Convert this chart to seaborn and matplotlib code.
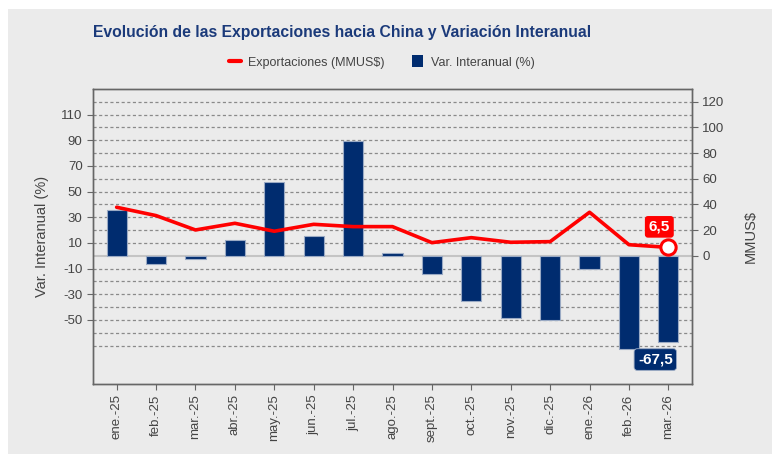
import numpy as np
import pandas as pd
import matplotlib
matplotlib.use("Agg")
import matplotlib.pyplot as plt
import seaborn as sns
from matplotlib.lines import Line2D
from matplotlib.patches import Patch, Rectangle

# datos
MESES = ['ene.-25', 'feb.-25', 'mar.-25', 'abr.-25', 'may.-25', 'jun.-25', 'jul.-25',
         'ago.-25', 'sept.-25', 'oct.-25', 'nov.-25', 'dic.-25', 'ene.-26', 'feb.-26', 'mar.-26']
VAR_INTERANUAL = [35.5, -6.2, -2.3, 12.0, 57.6, 15.1, 89.6, 2.1,
                  -14.0, -35.4, -48.2, -50.0, -10.4, -72.6, -67.5]
EXPORTACIONES = [37.8, 31.3, 20.1, 25.3, 19.1, 24.5, 22.7, 22.7,
                 10.2, 14.1, 10.5, 11.0, 33.9, 8.6, 6.5]
LEFT_TICKS = [110, 90, 70, 50, 30, 10, -10, -30, -50]
RIGHT_TICKS = [0, 20, 40, 60, 80, 100, 120]

NAVY = '#002c6f'
RED = '#ff0000'
BG = '#ebebeb'
TXT = '#444444'
SPINE = '#666666'

sns.set_theme(style='white')
plt.rcParams['font.family'] = ['Liberation Sans', 'DejaVu Sans']
plt.rcParams['axes.unicode_minus'] = False

df = pd.DataFrame({'mes': MESES, 'var': VAR_INTERANUAL,
                   'exp': EXPORTACIONES, 'idx': np.arange(len(MESES))})

fig = plt.figure(figsize=(7.72, 4.54), dpi=100, facecolor='white')
fig.patches.append(Rectangle((8 / 772, 0), 1, 1 - 9 / 454, transform=fig.transFigure,
                             facecolor=BG, edgecolor='none', zorder=-10))
ax = fig.add_axes([93 / 772, 1 - 384 / 454, 599 / 772, 295 / 454])
ax.set_facecolor(BG)

# grid punteado y linea cero
for v in range(-70, 130, 10):
    if v == 0:
        ax.axhline(0, color='#c4c4c4', lw=1.5, zorder=1)
    else:
        ax.axhline(v, color='#8a8a8a', lw=0.9, ls=(0, (2.5, 2)), zorder=0)

# barras var. interanual ########################################
sns.barplot(ax=ax, data=df, x='mes', y='var', order=MESES, color=NAVY,
            width=0.51, edgecolor='#9aaac4', linewidth=0.8, saturation=1, zorder=2)
ax.set_xlim(-0.6, len(MESES) - 0.4)
ax.set_ylim(-100, 130)
ax.set_yticks(LEFT_TICKS)
ax.set_ylabel('Var. Interanual (%)', color=TXT, fontsize=10.5, labelpad=9)
ax.set_xlabel('')
ax.tick_params(axis='x', rotation=90, labelsize=9.5, colors=TXT, length=4,
               width=0.8, color=SPINE, direction='out', bottom=True)
ax.tick_params(axis='y', labelsize=9.5, colors=TXT, length=4, width=0.8,
               color=SPINE, direction='out', left=True)

# linea exportaciones ########################################
ax2 = ax.twinx()
sns.lineplot(ax=ax2, data=df, x='idx', y='exp', color=RED, lw=2.6, zorder=3)
last = df.iloc[-1]
ax2.plot(last['idx'], last['exp'], 'o', ms=11, mfc='white', mec=RED, mew=2.2, zorder=4)
ax2.set_ylim(-100, 130)
ax2.set_xlim(-0.6, len(MESES) - 0.4)
ax2.set_yticks(RIGHT_TICKS)
ax2.set_ylabel('MMUS$', color=TXT, fontsize=10.5, labelpad=14)
ax2.set_xlabel('')
ax2.tick_params(axis='y', labelsize=9.5, colors=TXT, length=4, width=0.8,
                color=SPINE, direction='out', right=True)

for a in (ax, ax2):
    for s in a.spines.values():
        s.set_color(SPINE)
        s.set_linewidth(1.0)

# etiquetas del ultimo dato
ax2.annotate(f"{last['exp']:.1f}".replace('.', ','), xy=(last['idx'], last['exp']),
             xytext=(-6.5, 14.8), textcoords='offset points', ha='center', va='center',
             color='white', fontsize=11, fontweight='bold', zorder=5,
             bbox=dict(boxstyle='round,pad=0.25,rounding_size=0.2', fc=RED, ec='none'))
ax.annotate(f"{VAR_INTERANUAL[-1]:.1f}".replace('.', ','),
            xy=(len(MESES) - 1, VAR_INTERANUAL[-1]),
            xytext=(-9.4, -12.4), textcoords='offset points', ha='center', va='center',
            color='white', fontsize=11, fontweight='bold', zorder=5,
            bbox=dict(boxstyle='round,pad=0.25,rounding_size=0.2', fc=NAVY, ec='#9aaac4', lw=0.6))

# titulo y leyenda ########################################
fig.text(93 / 772, 1 - 32 / 454, 'Evolución de las Exportaciones hacia China y Variación Interanual',
         ha='left', va='center', fontsize=11.3, fontweight='bold', color='#1b3a7a')
handles = [Line2D([0], [0], color=RED, lw=3),
           Patch(facecolor=NAVY, edgecolor='none')]
fig.legend(handles, ['Exportaciones (MMUS$)', 'Var. Interanual (%)'],
           loc='center', bbox_to_anchor=(382 / 772, 1 - 62 / 454), ncol=2, frameon=False,
           fontsize=9, labelcolor=TXT, handlelength=0.9, handleheight=1.1,
           handletextpad=0.6, columnspacing=2.2)

fig.savefig('out.png', dpi=100, facecolor='white')
